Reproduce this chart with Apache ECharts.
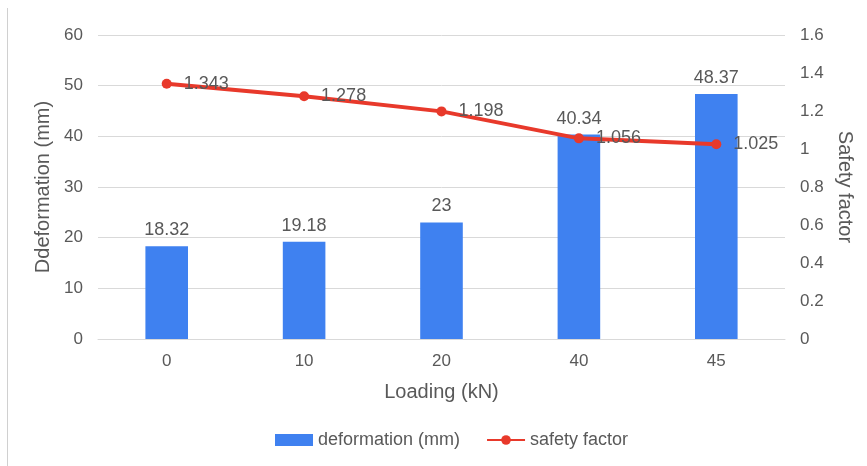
<!DOCTYPE html>
<html>
<head>
<meta charset="utf-8">
<script src="https://cdn.jsdelivr.net/npm/echarts@6/dist/echarts.min.js"></script>
<style>
  html, body { margin: 0; padding: 0; background: #fff; }
  #chart { width: 867px; height: 466px; }
</style>
</head>
<body>
<div id="chart"></div>
<script>
// Loading steps and measured results
const loadings = ['0', '10', '20', '40', '45'];
const deformation = [18.32, 19.18, 23, 40.34, 48.37];
const safetyFactor = [1.343, 1.278, 1.198, 1.056, 1.025];

const textColor = '#595959';
const fontFamily = 'Liberation Sans, Arial, sans-serif';

const chart = echarts.init(document.getElementById('chart'));
chart.setOption({
  animation: false,
  textStyle: { fontFamily: fontFamily },
  grid: { left: 98, right: 82, top: 35, height: 304 },
  graphic: [{
    type: 'line',
    shape: { x1: 7.5, y1: 8, x2: 7.5, y2: 466 },
    style: { stroke: '#d0d0d0', lineWidth: 1 }
  }],
  legend: {
    bottom: 12,
    left: 270,
    itemWidth: 38,
    itemHeight: 12,
    itemGap: 26,
    textStyle: { color: textColor, fontSize: 18, fontFamily: fontFamily },
    data: [
      { name: 'deformation (mm)', icon: 'rect' },
      { name: 'safety factor' }
    ]
  },
  xAxis: {
    type: 'category',
    data: loadings,
    name: 'Loading (kN)',
    nameLocation: 'middle',
    nameGap: 43,
    nameTextStyle: { color: textColor, fontSize: 20 },
    axisLine: { lineStyle: { color: '#d9d9d9' } },
    axisTick: { show: false },
    axisLabel: { color: textColor, fontSize: 17, margin: 14 }
  },
  yAxis: [{
    type: 'value',
    min: 0, max: 60, interval: 10,
    name: 'Ddeformation (mm)',
    nameLocation: 'middle',
    nameGap: 43,
    nameTextStyle: { color: textColor, fontSize: 20 },
    axisLabel: { color: textColor, fontSize: 17, margin: 15 },
    splitLine: { lineStyle: { color: '#d9d9d9' } }
  }, {
    type: 'value',
    min: 0, max: 1.6, interval: 0.2,
    name: 'Safety factor',
    nameLocation: 'middle',
    nameGap: 49,
    nameRotate: -90,
    nameTextStyle: { color: textColor, fontSize: 20 },
    axisLabel: { color: textColor, fontSize: 17, margin: 15 },
    splitLine: { show: false }
  }],
  series: [{
    name: 'deformation (mm)',
    type: 'bar',
    yAxisIndex: 0,
    data: deformation,
    barWidth: '31%',
    itemStyle: { color: '#3f81f0' },
    label: {
      show: true, position: 'top', distance: 7,
      color: textColor, fontSize: 18
    }
  }, {
    name: 'safety factor',
    type: 'line',
    yAxisIndex: 1,
    data: safetyFactor,
    symbol: 'circle',
    symbolSize: 10,
    lineStyle: { color: '#e8392b', width: 4 },
    itemStyle: { color: '#e8392b' },
    label: {
      show: true, position: 'right', distance: 12,
      color: textColor, fontSize: 18
    }
  }]
});
</script>
</body>
</html>
